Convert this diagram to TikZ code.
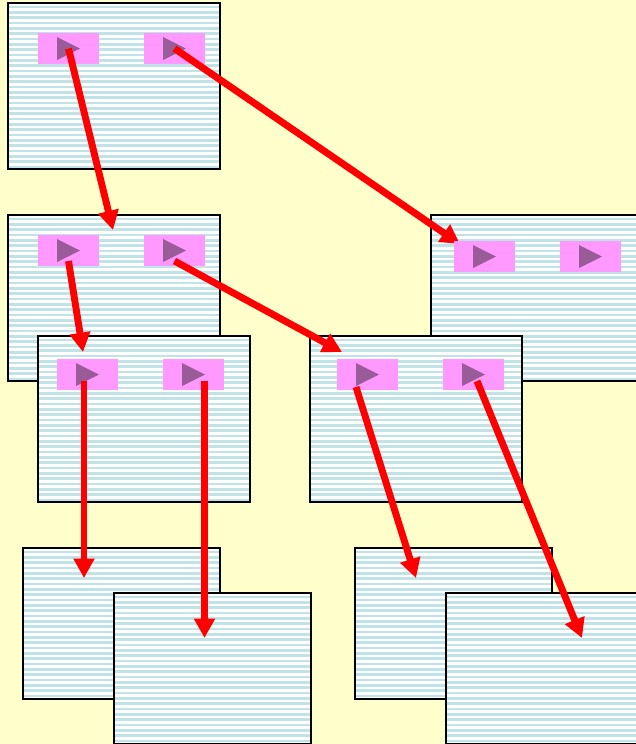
\documentclass[tikz,border=0pt]{standalone}
\usepackage{xcolor}
\usetikzlibrary{arrows.meta,calc}
\definecolor{paper}{HTML}{FFFFCC}
\definecolor{stripe}{HTML}{BFE3E6}
\definecolor{pinkbtn}{HTML}{FF99FF}
\definecolor{playmark}{HTML}{995C99}
\newcommand{\playbutton}[3]{
	\node[btnbox] (#1) at (#2,#3) {};
	\fill[color=playmark] ($(#1.center)+(-11.5,-11.5)$) -- ($(#1.center)+(11.5,0)$) -- ($(#1.center)+(-11.5,11.5)$) -- cycle;
}
\tikzset{
	panelbox/.style={draw=black,line width=1.5pt,fill=white,inner sep=0pt,outer sep=0pt,anchor=north west,
		path picture={
			\foreach \k in {0,...,31} {
				\fill[color=stripe] ($(path picture bounding box.north west)+(0,5.333*\k+2.667)$) rectangle ($(path picture bounding box.north east)+(0,5.333*\k+5.333)$);
			}
		}},
	bigpanel/.style={panelbox,minimum width=158.7pt,minimum height=124.5pt},
	smallpanel/.style={panelbox,minimum width=147.5pt,minimum height=113.25pt},
	btnbox/.style={fill=pinkbtn,inner sep=0pt,outer sep=0pt,minimum width=45.5pt,minimum height=23pt},
	link/.style={color=red,line width=5.2pt,-{Triangle[length=14.5pt,width=15pt]}}
}
\begin{document}
\begin{tikzpicture}[x=0.75pt,y=-0.75pt]
	\clip (0,0) rectangle (636,744);
	\fill[color=paper] (0,0) rectangle (636,744);
	% upper panels
	\node[bigpanel] (top) at (8,3) {};
	\playbutton{topA}{68.5}{48.5}
	\playbutton{topB}{174.5}{48.5}
	\node[bigpanel] (mid) at (8,215) {};
	\playbutton{midA}{68.5}{250.5}
	\playbutton{midB}{174.5}{250.5}
	\node[bigpanel] (side) at (431,215) {};
	% arrows into the upper panels
	\coordinate (midIn) at (113,230);
	\coordinate (sideIn) at (460,244);
	\draw[link] (topA.center) -- (midIn);
	\draw[link] (topB.center) -- (sideIn);
	\playbutton{sideA}{484.5}{256.5}
	\playbutton{sideB}{590.5}{256.5}
	% second row
	\node[bigpanel] (left) at (38,336) {};
	\playbutton{leftA}{87.5}{374.5}
	\playbutton{leftB}{193.5}{374.5}
	\node[bigpanel] (right) at (310,336) {};
	\playbutton{rightA}{367.5}{374.5}
	\playbutton{rightB}{473.5}{374.5}
	\coordinate (leftIn) at (83,352);
	\coordinate (rightIn) at (342,352);
	\draw[link] ($(midA.center)+(0,10.5)$) -- (leftIn);
	\draw[link] ($(midB.center)+(0,10.5)$) -- (rightIn);
	% bottom row
	\node[smallpanel] (lowA) at (23,548) {};
	\node[smallpanel] (lowB) at (114,593) {};
	\node[smallpanel] (lowC) at (355,548) {};
	\node[smallpanel] (lowD) at (446,593) {};
	\coordinate (lowAIn) at (84,578);
	\coordinate (lowBIn) at (204.5,638);
	\coordinate (lowCIn) at (416,578);
	\coordinate (lowDIn) at (582,638);
	\draw[link] ($(leftA.center)+(-3.5,6.5)$) -- (lowAIn);
	\draw[link] ($(leftB.center)+(11,6.5)$) -- (lowBIn);
	\draw[link] ($(rightA.center)+(-11.5,12.5)$) -- (lowCIn);
	\draw[link] ($(rightB.center)+(3.5,6.5)$) -- (lowDIn);
\end{tikzpicture}
\end{document}
